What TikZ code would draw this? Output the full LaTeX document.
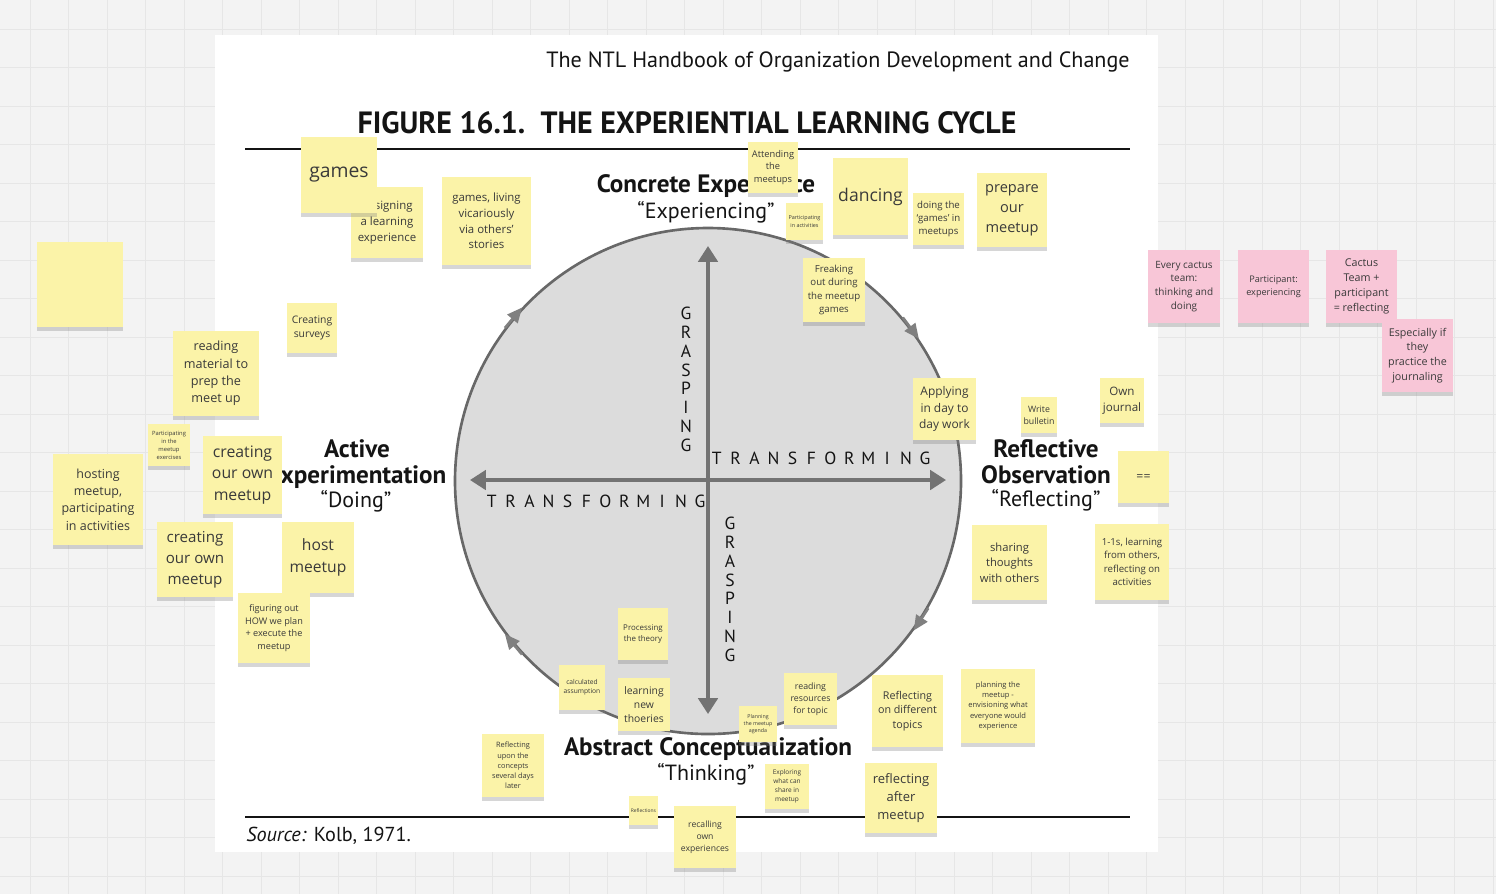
\documentclass[tikz,border=0pt]{standalone}
\usepackage{fontspec}
\setmainfont{Open Sans}
\newfontfamily\bookfont{PT Sans}
\usetikzlibrary{arrows.meta, shadows}

\definecolor{canvas}{HTML}{F3F3F3}
\definecolor{gridline}{HTML}{E6E6E6}
\definecolor{stickyyellow}{HTML}{FBF3A8}
\definecolor{stickypink}{HTML}{F8C6D7}
\definecolor{wheelfill}{HTML}{DCDCDC}
\definecolor{wheeledge}{HTML}{686868}
\definecolor{axisgray}{HTML}{737373}
\definecolor{notetext}{HTML}{3A3A3A}
\definecolor{booktext}{HTML}{141414}

\newcommand\fsz[1]{\fontsize{#1pt}{\dimexpr #1pt*138/100\relax}\selectfont}

\tikzset{
  sticky/.style={fill=stickyyellow, text=notetext, align=center, inner sep=0.5pt,
    drop shadow={opacity=0.32, shadow xshift=0pt, shadow yshift=-2pt}},
  pinky/.style={sticky, fill=stickypink},
  sz/.style 2 args={minimum width=#1*0.02cm, minimum height=#2*0.02cm},
  stage/.style={font=\bookfont\bfseries\fontsize{14.3}{14.7}\selectfont, text=booktext, align=center, inner sep=0pt},
  cue/.style={font=\bookfont\fontsize{12.5}{14}\selectfont, text=booktext, inner sep=0pt},
  axislbl/.style={font=\bookfont\fontsize{10}{12}\selectfont, text=booktext, inner sep=0pt},
  axis/.style={draw=axisgray, line width=2pt, {Triangle[length=9pt,width=11pt]}-{Triangle[length=9pt,width=11pt]}},
  cyc/.style={draw=wheeledge, line width=1.5pt, -{Triangle[length=8.5pt,width=7.5pt]}, color=gray}
}

\begin{document}
\begin{tikzpicture}[x=0.02cm, y=-0.02cm]
\useasboundingbox (0,0) rectangle (1496,894);
\fill[canvas] (0,0) rectangle (1496,894);
\foreach \gx in {30,68.5,...,1496} \draw[gridline] (\gx,0) -- (\gx,894);
\foreach \gy in {29,67.5,...,894} \draw[gridline] (0,\gy) -- (1496,\gy);

% the book page
\fill[white] (215,35) rectangle (1158,852);
\draw[booktext, line width=0.8pt] (245,149) -- (1130,149);
\draw[booktext, line width=0.8pt] (245,817) -- (1130,817);
\node[anchor=east, inner sep=0pt, font=\bookfont, text=booktext] (book) at (1130,62)
  {\resizebox{332pt}{!}{The NTL Handbook of Organization Development and Change}};
\node[inner sep=0pt, font=\bookfont\bfseries, text=booktext] (figtitle) at (687,123)
  {\resizebox{375pt}{12.5pt}{FIGURE 16.1.\ \ THE EXPERIENTIAL LEARNING CYCLE}};
\node[anchor=west, inner sep=0pt, font=\bookfont\fontsize{11.5}{13}\selectfont, text=booktext] (source) at (246,836)
  {\textit{Source:} Kolb, 1971.};

% the cycle
\node[circle, minimum size=506*0.02cm, fill=wheelfill, draw=wheeledge, line width=1.5pt] (wheel) at (708,481) {};
\coordinate (gtop) at (708,246);
\coordinate (gbot) at (708,714);
\coordinate (tleft) at (470,480);
\coordinate (tright) at (946,480);
\draw[axis] (gbot) -- (gtop);
\draw[axis] (tleft) -- (tright);
\foreach \a/\b in {143/137.5, 40/34.5, -30/-36.5, -137/-143}
  \draw[cyc] (wheel.\a) -- (wheel.\b);

\foreach \l [count=\i from 0] in {G,R,A,S,P,I,N,G} {
  \node[axislbl] (gu\i) at (686,313.3+18.85*\i) {\l};
  \node[axislbl] (gd\i) at (730,523.3+18.85*\i) {\l};
}
\foreach \l [count=\i from 0] in {T,R,A,N,S,F,O,R,M,I,N,G} {
  \node[axislbl] (tr\i) at (716.7+18.94*\i,458.3) {\l};
  \node[axislbl] (tl\i) at (491.7+18.94*\i,501.7) {\l};
}

\node[stage] (ce) at (706,186) {Concrete Experience};
\node[cue] (cecue) at (706,212) {“Experiencing”};
\node[stage] (ae) at (357,464) {Active\\Experimentation};
\node[cue] (aecue) at (356,501) {“Doing”};
\node[stage] (ro) at (1046,462) {Reflective\\Observation};
\node[cue] (rocue) at (1046,500) {“Reflecting”};
\node[stage] (ac) at (708,749) {Abstract Conceptualization};
\node[cue] (accue) at (706,774) {“Thinking”};

% sticky notes
\node[sticky, sz={86}{85}] (blank) at (80,284.5) {};
\node[sticky, sz={72}{71}, font=\fsz{6.5}] (designing) at (387,222.5) {designing\\a learning\\experience};
\node[sticky, sz={76}{76}, font=\fsz{11}] (games) at (339,175) {games};
\node[sticky, sz={89}{88}, font=\fsz{6.5}] (vicarious) at (486.5,221) {games, living\\vicariously\\via others'\\stories};
\node[sticky, sz={50}{50}, font=\fsz{5.9}] (surveys) at (312,328) {Creating\\surveys};
\node[sticky, sz={86}{85}, font=\fsz{7.2}] (readmat) at (216,373.5) {reading\\material to\\prep the\\meet up};
\node[sticky, sz={42}{42}, font=\fsz{3.3}] (exercises) at (169,445) {Participating\\in the\\meetup\\exercises};
\node[sticky, sz={79}{78}, font=\fsz{9}] (owna) at (242.5,475) {creating\\our own\\meetup};
\node[sticky, sz={90}{91}, font=\fsz{7.1}] (hosting) at (98,499.5) {hosting\\meetup,\\participating\\in activities};
\node[sticky, sz={76}{75}, font=\fsz{8.6}] (ownb) at (195,559.5) {creating\\our own\\meetup};
\node[sticky, sz={72}{71}, font=\fsz{8.9}] (host) at (318,557.5) {host\\meetup};
\node[sticky, sz={72}{70}, font=\fsz{5.2}] (figuring) at (274,628) {figuring out\\HOW we plan\\+ execute the\\meetup};

\node[sticky, sz={50}{51}, font=\fsz{5.3}] (attending) at (773,167.5) {Attending\\the\\meetups};
\node[sticky, sz={37}{37}, font=\fsz{3.1}] (activities) at (804.5,221.5) {Participating\\in activities};
\node[sticky, sz={75}{77}, font=\fsz{10}] (dancing) at (870.5,196.5) {dancing};
\node[sticky, sz={51}{52}, font=\fsz{5.5}] (doinggames) at (938.5,219) {doing the\\`games' in\\meetups};
\node[sticky, sz={70}{74}, font=\fsz{8.3}] (prepare) at (1012,210) {prepare\\our\\meetup};
\node[sticky, sz={62}{64}, font=\fsz{5.5}] (freaking) at (834,290) {Freaking\\out during\\the meetup\\games};

\node[sticky, sz={63}{62}, font=\fsz{6.8}] (applying) at (944.5,409) {Applying\\in day to\\day work};
\node[sticky, sz={36}{36}, font=\fsz{5}] (bulletin) at (1039,415) {Write\\bulletin};
\node[sticky, sz={44}{45}, font=\fsz{6.6}] (journal) at (1122,400.5) {Own\\journal};
\node[sticky, sz={51}{52}, font=\fsz{7}] (equals) at (1143.5,477) {==};
\node[sticky, sz={75}{75}, font=\fsz{6.4}] (sharing) at (1009.5,562.5) {sharing\\thoughts\\with others};
\node[sticky, sz={74}{76}, font=\fsz{5.5}] (oneonone) at (1132,562) {1-1s, learning\\from others,\\reflecting on\\activities};

\node[pinky, sz={72}{73}, font=\fsz{5.7}] (everyteam) at (1184,286.5) {Every cactus\\team:\\thinking and\\doing};
\node[pinky, sz={71}{73}, font=\fsz{5.2}] (participant) at (1273.5,286.5) {Participant:\\experiencing};
\node[pinky, sz={71}{73}, font=\fsz{6.1}] (teamplus) at (1361.5,286.5) {Cactus\\Team +\\participant\\= reflecting};
\node[pinky, sz={71}{73}, font=\fsz{6.1}] (especially) at (1417.5,355.5) {Especially if\\they\\practice the\\journaling};

\node[sticky, sz={50}{52}, font=\fsz{4.5}] (processing) at (643,634) {Processing\\the theory};
\node[sticky, sz={46}{45}, font=\fsz{3.8}] (calculated) at (582,687.5) {calculated\\assumption};
\node[sticky, sz={52}{53}, font=\fsz{5.9}] (thoeries) at (644,704.5) {learning\\new\\thoeries};
\node[sticky, sz={38}{36}, font=\fsz{3}] (agenda) at (758,724) {Planning\\the meetup\\agenda};
\node[sticky, sz={53}{52}, font=\fsz{5}] (resources) at (810.5,699) {reading\\resources\\for topic};
\node[sticky, sz={44}{45}, font=\fsz{3.7}] (exploring) at (787,786.5) {Exploring\\what can\\share in\\meetup};
\node[sticky, sz={29}{29}, font=\fsz{2.8}] (reflections) at (643.5,810.5) {Reflections};
\node[sticky, sz={62}{62}, font=\fsz{4.9}] (recalling) at (705,837) {recalling\\own\\experiences};
\node[sticky, sz={62}{63}, font=\fsz{4.2}] (severaldays) at (513,765.5) {Reflecting\\upon the\\concepts\\several days\\later};
\node[sticky, sz={71}{72}, font=\fsz{6.1}] (topics) at (907.5,711) {Reflecting\\on different\\topics};
\node[sticky, sz={74}{74}, font=\fsz{4.3}] (envision) at (998,706) {planning the\\meetup -\\envisioning what\\everyone would\\experience};
\node[sticky, sz={72}{70}, font=\fsz{7.4}] (after) at (901,798) {reflecting\\after\\meetup};
\end{tikzpicture}
\end{document}
